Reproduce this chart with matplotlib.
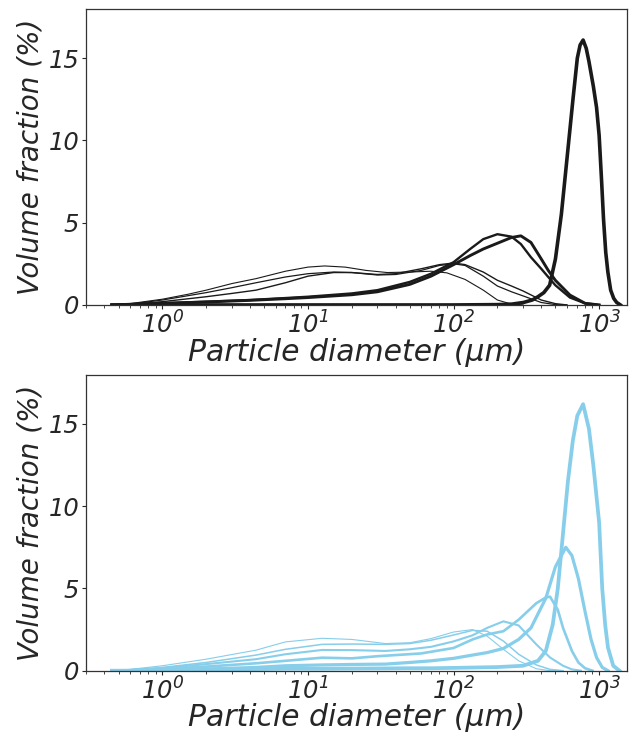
import numpy as np
import matplotlib.pyplot as plt

plt.rcParams['font.family'] = ['DejaVu Sans']
plt.rcParams['font.style'] = 'italic'
plt.rcParams['mathtext.default'] = 'regular'

# ---- top panel (black) ----
top_d_fine = [0.45, 0.6, 1, 1.5, 2, 3, 4.4, 7, 10, 13, 18, 25, 35, 50, 70, 90, 120, 160, 200, 250, 300]
top_t1 = [0, 0.08, 0.35, 0.65, 0.9, 1.3, 1.6, 2.05, 2.3, 2.37, 2.3, 2.1, 1.97, 2.0, 2.05, 1.95, 1.55, 0.9, 0.3, 0.05, 0]

top_d_mid = [0.45, 0.6, 1, 2, 3, 4.4, 7, 10, 15, 20, 30, 40, 60, 80, 100, 120, 160, 200, 250, 300, 400, 500, 600]
top_t2 = [0, 0.05, 0.3, 0.75, 1.05, 1.35, 1.7, 1.9, 2.0, 1.97, 1.82, 1.85, 2.1, 2.4, 2.5, 2.4, 1.75, 1.15, 0.8, 0.55, 0.15, 0.02, 0]
top_t3 = [0, 0.03, 0.2, 0.5, 0.7, 0.9, 1.35, 1.75, 1.97, 1.97, 1.85, 1.9, 2.2, 2.45, 2.55, 2.45, 2.0, 1.5, 1.15, 0.85, 0.3, 0.08, 0]

top_d_peak = [0.45, 0.6, 1, 2, 4, 7, 10, 20, 30, 50, 70, 100, 130, 160, 200, 250, 290, 340, 400, 447, 500, 630, 800, 1000]
top_a = [0, 0.05, 0.1, 0.2, 0.3, 0.42, 0.5, 0.7, 0.9, 1.4, 1.9, 2.6, 3.4, 4.0, 4.3, 4.15, 3.7, 2.9, 2.2, 1.7, 1.2, 0.45, 0.1, 0]
top_b = [0, 0.04, 0.1, 0.18, 0.28, 0.38, 0.45, 0.62, 0.8, 1.25, 1.75, 2.45, 3.0, 3.4, 3.75, 4.1, 4.2, 3.8, 2.8, 2.1, 1.5, 0.6, 0.1, 0]

top_c_d = [0.45, 10, 100, 200, 251, 302, 347, 380, 417, 457, 501, 550, 603, 661, 708, 740, 776, 815, 851, 912,
           960, 1000, 1040, 1072, 1110, 1148, 1200, 1259, 1320, 1400]
top_c = [0, 0, 0, 0.02, 0.05, 0.15, 0.3, 0.5, 0.75, 1.2, 2.8, 5.5, 9.0, 12.5, 15.0, 15.8, 16.1, 15.6, 14.8, 13.3,
         12.0, 10.3, 7.5, 5.2, 3.2, 2.0, 0.9, 0.4, 0.15, 0]

top_curves = [(top_d_fine, top_t1, 0.8), (top_d_mid, top_t2, 0.9), (top_d_mid, top_t3, 1.0),
              (top_d_peak, top_a, 1.7), (top_d_peak, top_b, 2.1), (top_c_d, top_c, 2.6)]

# ---- bottom panel (sky blue) ----
bot_d = [0.45, 0.6, 1, 2, 4.4, 7, 12.5, 20, 34, 50, 70, 100, 135, 170, 220, 280, 370, 460, 565]
bot_1 = [0, 0.08, 0.3, 0.7, 1.25, 1.75, 1.97, 1.9, 1.65, 1.7, 1.95, 2.35, 2.5, 2.1, 1.3, 0.6, 0.12, 0, 0]
bot_2 = [0, 0.05, 0.2, 0.5, 0.95, 1.3, 1.6, 1.62, 1.6, 1.65, 1.85, 2.17, 2.45, 2.4, 1.8, 1.0, 0.35, 0.08, 0]
bot_3 = [0, 0.04, 0.15, 0.4, 0.7, 1.0, 1.26, 1.25, 1.2, 1.3, 1.45, 1.78, 2.15, 2.6, 3.0, 2.75, 1.6, 0.8, 0.3]
bot_3_end_d = [650, 750]
bot_3_end = [0.08, 0]

bot_4_d = [0.45, 0.6, 1, 2, 4.4, 7, 12.5, 20, 30, 40, 60, 100, 135, 170, 220, 280, 370, 430, 460, 520, 565,
           650, 720, 800, 900]
bot_4 = [0, 0.02, 0.1, 0.25, 0.45, 0.6, 0.79, 0.75, 0.88, 0.95, 1.05, 1.38, 1.9, 2.2, 2.4, 3.1, 4.1, 4.45, 4.5,
         3.7, 2.6, 1.2, 0.5, 0.15, 0]

bot_5_d = [0.45, 0.6, 1, 2, 4.4, 7, 12.5, 20, 34, 50, 70, 100, 135, 170, 220, 280, 340, 430, 500, 590, 650,
           720, 800, 880, 960, 1050, 1150]
bot_5 = [0, 0.01, 0.04, 0.1, 0.2, 0.3, 0.35, 0.38, 0.4, 0.5, 0.6, 0.75, 0.95, 1.1, 1.35, 1.9, 2.6, 4.4, 6.3,
         7.5, 7.0, 5.6, 3.6, 1.9, 0.8, 0.2, 0]

bot_c_d = [0.45, 0.6, 1, 2, 4.4, 7, 12.5, 20, 34, 50, 70, 100, 150, 200, 300, 380, 430, 480, 520, 560, 610,
           660, 708, 776, 851, 912, 1000, 1050, 1100, 1150, 1250, 1380]
bot_c = [0, 0, 0.05, 0.08, 0.1, 0.12, 0.12, 0.13, 0.14, 0.15, 0.15, 0.17, 0.2, 0.22, 0.3, 0.6, 1.2, 2.8, 5.0, 8.0,
         11.5, 14.0, 15.5, 16.2, 14.7, 12.5, 9.0, 5.0, 2.8, 1.4, 0.3, 0]

bot_curves = [(bot_d, bot_1, 0.8), (bot_d, bot_2, 1.1), (bot_d + bot_3_end_d, bot_3 + bot_3_end, 1.5),
              (bot_4_d, bot_4, 1.9), (bot_5_d, bot_5, 2.3), (bot_c_d, bot_c, 2.7)]

colors = ['#1a1a1a', '#87ceeb']

fig, axes = plt.subplots(2, 1, figsize=(6.3, 7.33), dpi=100)
fig.subplots_adjust(left=0.137, right=0.995, top=0.988, bottom=0.085, hspace=0.235)

for ax, curves, col in zip(axes, [top_curves, bot_curves], colors):
    for d, v, lw in curves:
        ax.plot(d, v, color=col, lw=lw)
    ax.set_xscale('log')
    ax.set_xlim(0.3, 1550)
    ax.set_ylim(0, 18)
    ax.set_yticks([0, 5, 10, 15])
    ax.set_xlabel('Particle diameter (μm)', fontsize=21.5, color='#262626', labelpad=-1)
    ax.set_ylabel('Volume fraction (%)', fontsize=20, color='#262626', labelpad=3)
    ax.tick_params(axis='both', which='major', labelsize=17.5, colors='#262626', length=3, width=0.8, pad=2)
    ax.tick_params(axis='x', which='minor', length=2, width=0.6, colors='#262626')
    for s in ax.spines.values():
        s.set_color('#333333')
        s.set_linewidth(0.9)

fig.savefig('out.png', dpi=100)
